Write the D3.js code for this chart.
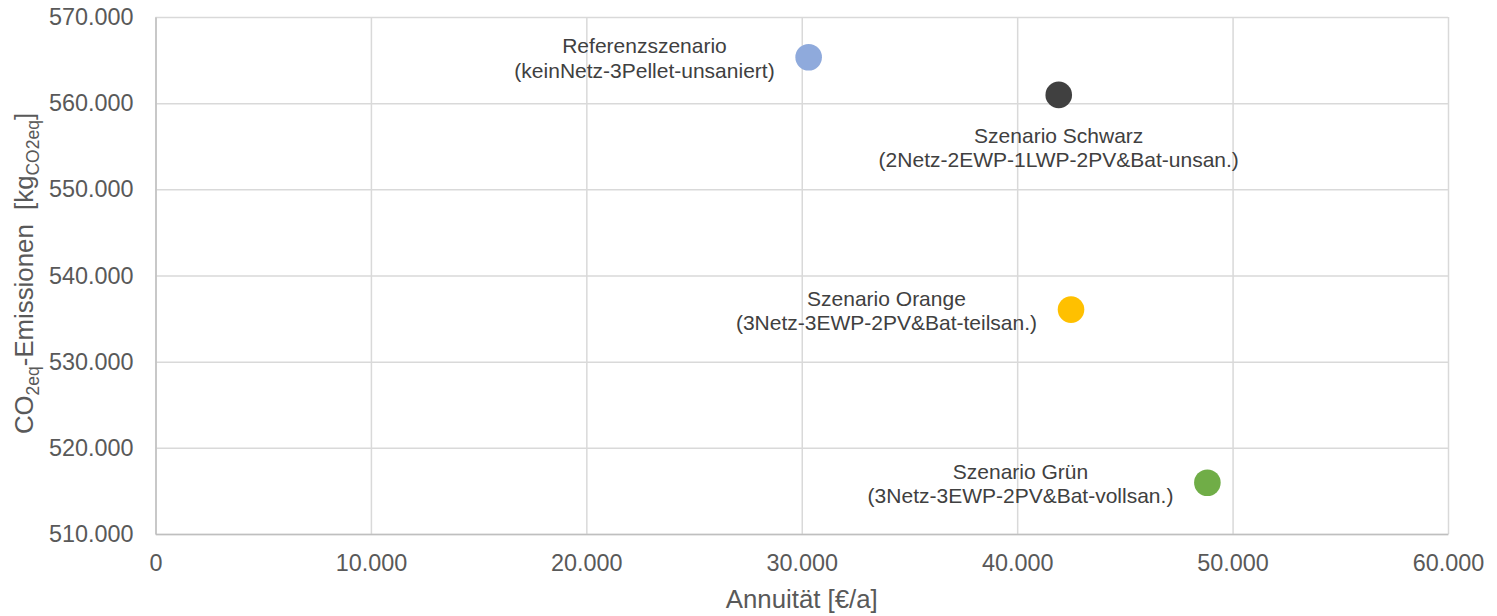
<!DOCTYPE html>
<html>
<head>
<meta charset="utf-8">
<script src="https://cdn.jsdelivr.net/npm/d3@7"></script>
<style>
  body { margin: 0; background: #fff; }
  svg { display: block; font-family: "Liberation Sans", Arial, sans-serif; }
</style>
</head>
<body>
<div id="chart"></div>
<script>
// scenario data: Annuität [€/a] vs. CO2eq emissions [kg]
var names = ["Referenzszenario", "Szenario Schwarz", "Szenario Orange", "Szenario Grün"];
var details = ["(keinNetz-3Pellet-unsaniert)", "(2Netz-2EWP-1LWP-2PV&Bat-unsan.)",
               "(3Netz-3EWP-2PV&Bat-teilsan.)", "(3Netz-3EWP-2PV&Bat-vollsan.)"];
var annuity = [30320, 41930, 42500, 48830];
var emissions = [565330, 560960, 536040, 515950];
var colors = ["#8faadc", "#404040", "#ffc000", "#70ad47"];
var labelPos = ["left", "below", "left", "left"];

var xTicks = [0, 10000, 20000, 30000, 40000, 50000, 60000];
var yTicks = [510000, 520000, 530000, 540000, 550000, 560000, 570000];

var width = 1497, height = 616;
var margin = {top: 17, right: 49, bottom: 82, left: 155.5};

var de = d3.formatLocale({decimal: ",", thousands: ".", grouping: [3], currency: ["", "€"]});
var fmt = de.format(",.0f");

var x = d3.scaleLinear().domain([0, 60000]).range([margin.left, width - margin.right]);
var y = d3.scaleLinear().domain([510000, 570000]).range([height - margin.bottom, margin.top]);

var svg = d3.select("#chart").append("svg")
    .attr("width", width)
    .attr("height", height);

// gridlines
svg.append("g")
    .attr("transform", "translate(0," + (height - margin.bottom) + ")")
    .call(d3.axisBottom(x).tickValues(xTicks).tickSize(-(height - margin.top - margin.bottom)).tickFormat(""))
    .call(function(g) { g.select(".domain").remove(); })
    .selectAll("line").attr("stroke", "#d9d9d9").attr("stroke-width", 1.5);

svg.append("g")
    .attr("transform", "translate(" + margin.left + ",0)")
    .call(d3.axisLeft(y).tickValues(yTicks).tickSize(-(width - margin.left - margin.right)).tickFormat(""))
    .call(function(g) { g.select(".domain").remove(); })
    .selectAll("line").attr("stroke", "#d9d9d9").attr("stroke-width", 1.5);

// axes
var xAxis = svg.append("g")
    .attr("transform", "translate(0," + (height - margin.bottom) + ")")
    .call(d3.axisBottom(x).tickValues(xTicks).tickSize(0).tickPadding(20).tickFormat(fmt));
xAxis.select(".domain").attr("stroke", "#bfbfbf").attr("stroke-width", 1.5);
xAxis.selectAll("text").attr("fill", "#595959").style("font-size", "23.4px");

var yAxis = svg.append("g")
    .attr("transform", "translate(" + margin.left + ",0)")
    .call(d3.axisLeft(y).tickValues(yTicks).tickSize(0).tickPadding(22).tickFormat(fmt));
yAxis.select(".domain").attr("stroke", "#bfbfbf").attr("stroke-width", 1.5);
yAxis.selectAll("text").attr("fill", "#595959").style("font-size", "23.4px");

// axis titles
svg.append("text")
    .attr("x", (margin.left + width - margin.right) / 2)
    .attr("y", 608)
    .attr("text-anchor", "middle")
    .attr("fill", "#595959")
    .style("font-size", "25.8px")
    .text("Annuität [€/a]");

var yTitle = svg.append("text")
    .attr("transform", "translate(33," + ((margin.top + height - margin.bottom) / 2 - 2) + ") rotate(-90)")
    .attr("text-anchor", "middle")
    .attr("fill", "#595959")
    .style("white-space", "pre")
    .style("font-size", "25.8px");
yTitle.append("tspan").text("CO");
yTitle.append("tspan").attr("dy", 6).style("font-size", "17.5px").text("2eq");
yTitle.append("tspan").attr("dy", -6).text("-Emissionen  [kg");
yTitle.append("tspan").attr("dy", 6).style("font-size", "17.5px").text("CO2eq");
yTitle.append("tspan").attr("dy", -6).text("]");

// points
var pts = names.map(function(n, i) {
  return {name: n, detail: details[i], a: annuity[i], e: emissions[i], color: colors[i], pos: labelPos[i]};
});

svg.append("g").selectAll("circle")
  .data(pts)
  .join("circle")
    .attr("cx", function(d) { return x(d.a); })
    .attr("cy", function(d) { return y(d.e); })
    .attr("r", 13.3)
    .attr("fill", function(d) { return d.color; });

// data labels
var labels = svg.append("g").selectAll("text")
  .data(pts)
  .join("text")
    .attr("text-anchor", "middle")
    .attr("fill", "#404040")
    .style("font-size", "21px");

labels.append("tspan").attr("class", "l1").text(function(d) { return d.name; });
labels.append("tspan").attr("class", "l2").text(function(d) { return d.detail; });

labels.each(function(d) {
  var t = d3.select(this);
  var w = 0;
  t.selectAll("tspan").each(function() { w = Math.max(w, this.getComputedTextLength()); });
  var cx = x(d.a), cy = y(d.e), tx, ty;
  if (d.pos === "below") {
    tx = cx;
    ty = cy + 48;
  } else {
    tx = cx - 34 - w / 2;
    ty = cy - 4;
  }
  t.select(".l1").attr("x", tx).attr("y", ty);
  t.select(".l2").attr("x", tx).attr("y", ty + 24.5);
});
</script>
</body>
</html>
